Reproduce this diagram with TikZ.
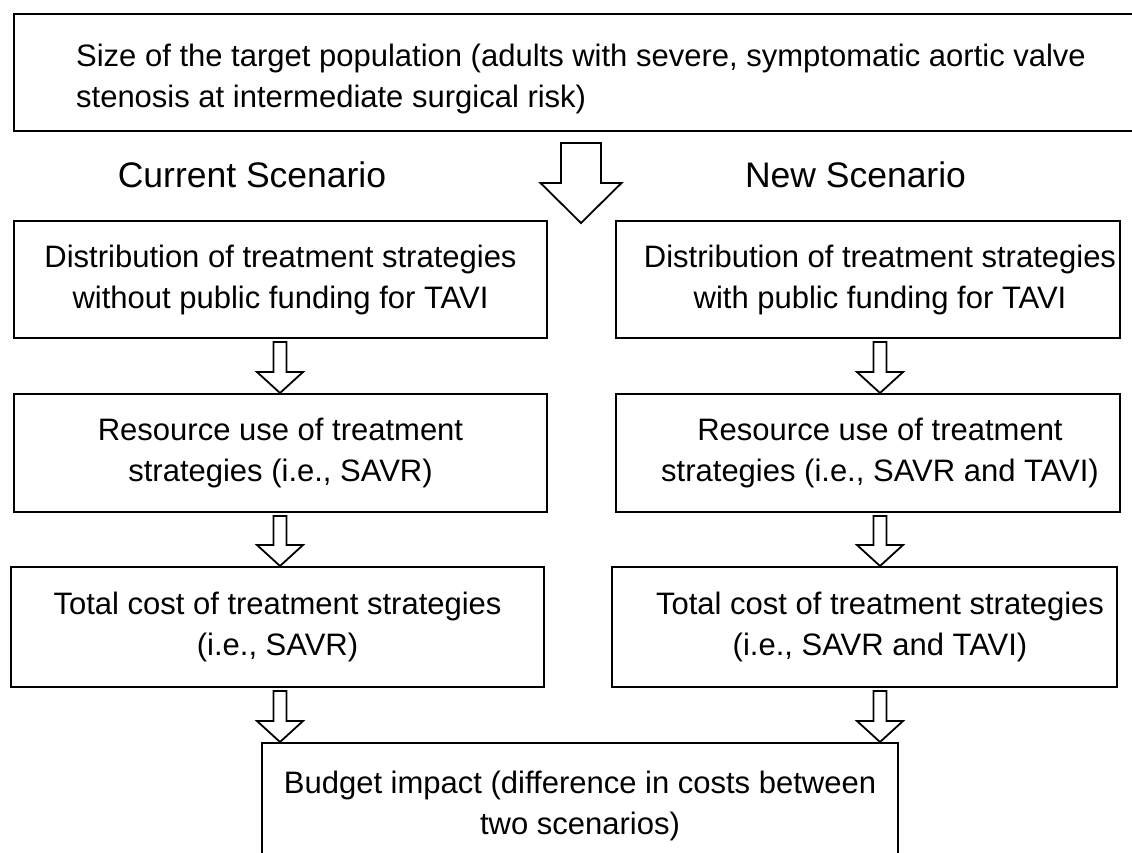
\documentclass[tikz,border=0pt]{standalone}
\usepackage{fontspec}
\setmainfont{Liberation Sans}
\usetikzlibrary{calc}

\newcommand{\blockarrow}[5]{%
\draw[hollow] let \p1=(#1), \p2=(#2) in
  (\x1-#3,\y1) -- (\x1+#3,\y1) -- (\x1+#3,\y2+#5) -- (\x1+#4,\y2+#5)
  -- (\x1,\y2) -- (\x1-#4,\y2+#5) -- (\x1-#3,\y2+#5) -- cycle;}

\begin{document}
\begin{tikzpicture}[x=1pt,y=-1pt]
\tikzset{
  box/.style={draw,line width=2pt,inner sep=0pt,font=\fontsize{31}{41}\selectfont,align=center},
  txt/.style={inner sep=0pt,font=\fontsize{31}{41}\selectfont,align=center},
  scen/.style={inner sep=0pt,font=\fontsize{35.5}{40}\selectfont},
  hollow/.style={draw,line width=1.8pt,fill=white,line join=miter}
}
\useasboundingbox (0,0) rectangle (1132,852);
% population
\node[box,minimum width=1133,minimum height=117] (pop) at (580.5,72.5) {};
\node[txt,align=left] (popt) at (581,79)
  {Size of the target population (adults with severe, symptomatic aortic valve\\
   stenosis at intermediate surgical risk)};
\node[scen] (cur) at (252,175) {Current Scenario};
\node[scen] (new) at (855.5,175) {New Scenario};
% current scenario
\node[box,minimum width=533,minimum height=117] (dist1) at (280.5,279.5)
  {Distribution of treatment strategies\\without public funding for TAVI};
\node[box,minimum width=533,minimum height=118] (res1) at (280.5,453)
  {Resource use of treatment\\strategies (i.e., SAVR)};
\node[box,minimum width=533,minimum height=120] (cost1) at (277.5,627)
  {Total cost of treatment strategies\\(i.e., SAVR)};
% new scenario
\node[box,minimum width=504,minimum height=117] (dist2) at (868,279.5) {};
\node[txt] (dist2t) at (880,279.5)
  {Distribution of treatment strategies\\with public funding for TAVI};
\node[box,minimum width=504,minimum height=118] (res2) at (868,453) {};
\node[txt] (res2t) at (880,453)
  {Resource use of treatment\\strategies (i.e., SAVR and TAVI)};
\node[box,minimum width=505,minimum height=120] (cost2) at (864.5,627) {};
\node[txt] (cost2t) at (880,627)
  {Total cost of treatment strategies\\(i.e., SAVR and TAVI)};
% budget impact
\node[box,minimum width=636,minimum height=126] (budget) at (580,806)
  {Budget impact (difference in costs between\\two scenarios)};
% arrows
\coordinate (lcol) at (280,0);
\coordinate (rcol) at (880,0);
\coordinate (bigtip) at (581,223);
\blockarrow{$(pop.south)+(0.5,11)$}{bigtip}{20pt}{40.5pt}{40pt}
\blockarrow{$(lcol |- dist1.south)+(0,3)$}{lcol |- res1.north}{6.5pt}{23pt}{21pt}
\blockarrow{$(lcol |- res1.south)+(0,3)$}{lcol |- cost1.north}{6.5pt}{23pt}{21pt}
\blockarrow{$(lcol |- cost1.south)+(0,3)$}{lcol |- budget.north}{6.5pt}{23pt}{21pt}
\blockarrow{$(rcol |- dist2.south)+(0,3)$}{rcol |- res2.north}{6.5pt}{23pt}{21pt}
\blockarrow{$(rcol |- res2.south)+(0,3)$}{rcol |- cost2.north}{6.5pt}{23pt}{21pt}
\blockarrow{$(rcol |- cost2.south)+(0,3)$}{rcol |- budget.north}{6.5pt}{23pt}{21pt}
\end{tikzpicture}
\end{document}
